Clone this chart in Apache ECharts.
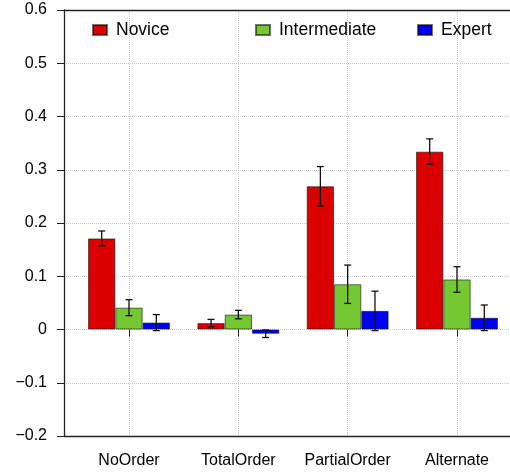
<!DOCTYPE html>
<html>
<head>
<meta charset="utf-8">
<script src="https://cdn.jsdelivr.net/npm/echarts@6/dist/echarts.min.js"></script>
<style>
  html, body { margin: 0; padding: 0; background: #fff; }
  #chart { width: 510px; height: 472px; }
</style>
</head>
<body>
<div id="chart"></div>
<script>
const categories = ['NoOrder', 'TotalOrder', 'PartialOrder', 'Alternate']
const novice = [0.171, 0.012, 0.269, 0.334]
const noviceErr = [0.014, 0.007, 0.037, 0.024]
const intermediate = [0.041, 0.028, 0.085, 0.094]
const intermediateErr = [0.015, 0.008, 0.036, 0.024]
const expert = [0.013, -0.008, 0.035, 0.022]
const expertErr = [0.015, 0.007, 0.037, 0.024]
const yMin = -0.2
const yMax = 0.6
const yStep = 0.1

const font = '"Liberation Sans", Arial, Helvetica, sans-serif'
const axisColor = '#222'
const barWidth = 27.3
const colors = ['#da0000', '#76c832', '#0000f2']

// error bar rows: [category index, series index, value, err]
const errRows = []
;[[novice, noviceErr], [intermediate, intermediateErr], [expert, expertErr]].forEach(([vals, errs], s) => {
  vals.forEach((v, i) => errRows.push([i, s, v, errs[i]]))
})

const fmtY = v => {
  const r = +v.toFixed(1)
  return r < 0 ? '\u2212' + Math.abs(r) : String(r)
}

const chart = echarts.init(document.getElementById('chart'))

const legendOf = (name, left) => ({
  data: [name],
  left: left,
  top: 21,
  padding: 0,
  icon: 'rect',
  itemWidth: 14,
  itemHeight: 10,
  selectedMode: false,
  textStyle: { fontSize: 17.5, color: '#000', fontFamily: font, padding: [0, 0, 0, 4] }
})

chart.setOption({
  animation: false,
  textStyle: { fontFamily: font },
  legend: [
    legendOf('Novice', 92),
    legendOf('Intermediate', 255),
    legendOf('Expert', 417)
  ],
  grid: [
    // bars: category centres sit on the grid edges
    { left: 129, width: 328, top: 10, height: 426 },
    // frame and y axis
    { left: 64, right: -40, top: 10, height: 426 }
  ],
  xAxis: [{
    gridIndex: 0,
    type: 'category',
    data: categories,
    boundaryGap: false,
    axisLine: { show: false },
    axisTick: { show: true, interval: 0, length: 7, lineStyle: { color: axisColor } },
    axisLabel: { interval: 0, fontSize: 16, color: '#000', margin: 17, fontFamily: font },
    splitLine: { show: true, interval: 0, lineStyle: { type: 'dotted', color: '#c8c8c8' } }
  }, {
    gridIndex: 1,
    type: 'value',
    position: 'bottom',
    min: 0,
    max: 1,
    axisLine: { show: true, onZero: false, lineStyle: { color: axisColor, width: 1.3 } },
    axisTick: { show: false },
    axisLabel: { show: false },
    splitLine: { show: false }
  }, {
    gridIndex: 1,
    type: 'value',
    position: 'top',
    min: 0,
    max: 1,
    axisLine: { show: true, onZero: false, lineStyle: { color: axisColor, width: 1.3 } },
    axisTick: { show: false },
    axisLabel: { show: false },
    splitLine: { show: false }
  }],
  yAxis: [{
    gridIndex: 0,
    type: 'value',
    min: yMin,
    max: yMax,
    interval: yStep,
    show: false
  }, {
    gridIndex: 1,
    type: 'value',
    min: yMin,
    max: yMax,
    interval: yStep,
    axisLine: { show: true, onZero: false, lineStyle: { color: axisColor, width: 1.3 } },
    axisTick: { show: true, length: 7, lineStyle: { color: axisColor } },
    axisLabel: { fontSize: 16, color: '#000', margin: 17, formatter: fmtY, fontFamily: font },
    splitLine: { show: true, lineStyle: { type: 'dotted', color: '#c8c8c8' } }
  }],
  series: [
    { name: 'Novice', data: novice, color: colors[0] },
    { name: 'Intermediate', data: intermediate, color: colors[1] },
    { name: 'Expert', data: expert, color: colors[2] }
  ].map(s => ({
    type: 'bar',
    name: s.name,
    data: s.data,
    xAxisIndex: 0,
    yAxisIndex: 0,
    barWidth: barWidth,
    barGap: '0%',
    clip: false,
    itemStyle: { color: s.color, borderColor: 'rgba(0,0,0,0.55)', borderWidth: 1 }
  })).concat([{
    type: 'custom',
    name: 'err',
    xAxisIndex: 0,
    yAxisIndex: 0,
    z: 10,
    data: errRows,
    encode: { x: 0, y: 2 },
    renderItem: (params, api) => {
      const i = api.value(0)
      const s = api.value(1)
      const v = api.value(2)
      const e = api.value(3)
      const top = api.coord([i, v + e])
      const bot = api.coord([i, v - e])
      const x = top[0] + (s - 1) * barWidth
      const cap = 3.5
      const style = { stroke: '#111', lineWidth: 1.3 }
      return {
        type: 'group',
        children: [
          { type: 'line', shape: { x1: x, y1: top[1], x2: x, y2: bot[1] }, style },
          { type: 'line', shape: { x1: x - cap, y1: top[1], x2: x + cap, y2: top[1] }, style },
          { type: 'line', shape: { x1: x - cap, y1: bot[1], x2: x + cap, y2: bot[1] }, style }
        ]
      }
    }
  }])
})
</script>
</body>
</html>
